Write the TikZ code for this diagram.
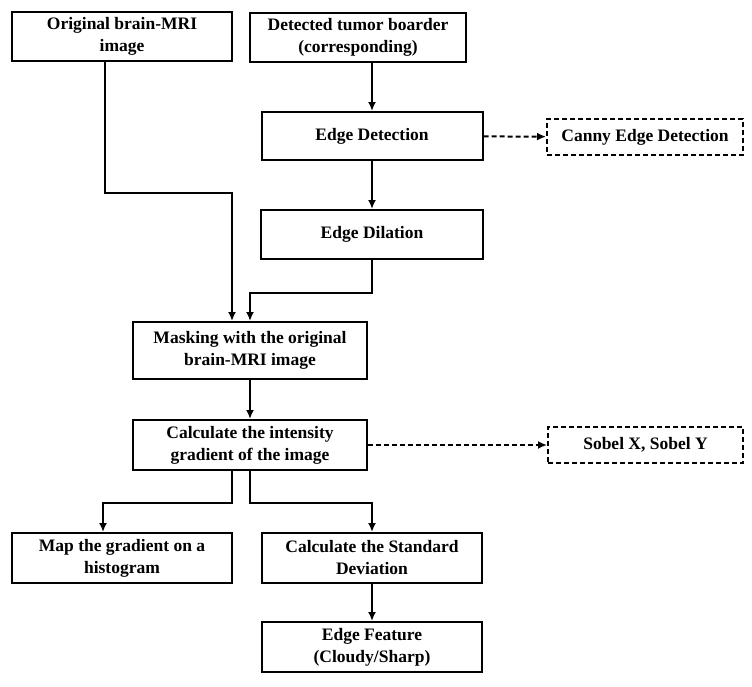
\documentclass[tikz,border=0pt]{standalone}
\usepackage{fontspec}
\setmainfont{Liberation Serif}
\usetikzlibrary{arrows.meta}

\begin{document}
\begin{tikzpicture}[x=1pt,y=-1pt,
    box/.style={draw, line width=2pt, inner sep=0pt, align=center,
      minimum width=220pt, minimum height=49pt,
      font=\fontsize{17.5}{22}\selectfont\bfseries},
    dbox/.style={box, dash pattern=on 5pt off 3pt, minimum width=195pt,
      minimum height=36pt},
    link/.style={line width=2pt, -{Latex[length=9pt,width=8pt]}},
    dlink/.style={link, dash pattern=on 5pt off 3pt}]
      \useasboundingbox (0,0) rectangle (752,686);

      % top row
      \node (orig) at (122,36.5) [box] {Original brain-MRI\\image};
      \node (tumor) at (358,37.5) [box, minimum width=216pt] {Detected tumor boarder\\(corresponding)};

      % right column
      \node (edge) at (372,136) [box, minimum width=221pt, minimum height=48pt] {Edge Detection};
      \node (canny) at (645,137) [dbox, minimum width=196pt] {Canny Edge Detection};
      \node (dil) at (372,234.5) [box, minimum width=222pt] {Edge Dilation};

      % middle
      \node (mask) at (250,350.5) [box, minimum width=234pt, minimum height=57pt] {Masking with the original\\brain-MRI image};
      \node (grad) at (250,445) [box, minimum width=234pt, minimum height=50pt] {Calculate the intensity\\gradient of the image};
      \node (sobel) at (645.5,445) [dbox] {Sobel X, Sobel Y};

      % bottom
      \node (map) at (122,558) [box, minimum height=50pt] {Map the gradient on a\\histogram};
      \node (std) at (372,558) [box, minimum height=50pt] {Calculate the Standard\\Deviation};
      \node (feat) at (372,647) [box, minimum height=50pt] {Edge Feature\\(Cloudy/Sharp)};

      \draw[link] (edge.north |- tumor.south) to (edge.north);
      \draw[link] (edge) to (dil);
      \draw[dlink] (edge) to (canny);
      \draw[link] ([xshift=-17pt]orig.south) -- ++(0,131) -| ([xshift=-18pt]mask.north);
      \draw[link] (dil.south) -- ++(0,33) -| (mask.north);
      \draw[link] (mask) to (grad);
      \draw[dlink] (grad) to (sobel);
      \draw[link] ([xshift=-18pt]grad.south) -- ++(0,32) -| ([xshift=-19pt]map.north);
      \draw[link] (grad.south) -- ++(0,32) -| (std.north);
      \draw[link] (std) to (feat);

\end{tikzpicture}
\end{document}
